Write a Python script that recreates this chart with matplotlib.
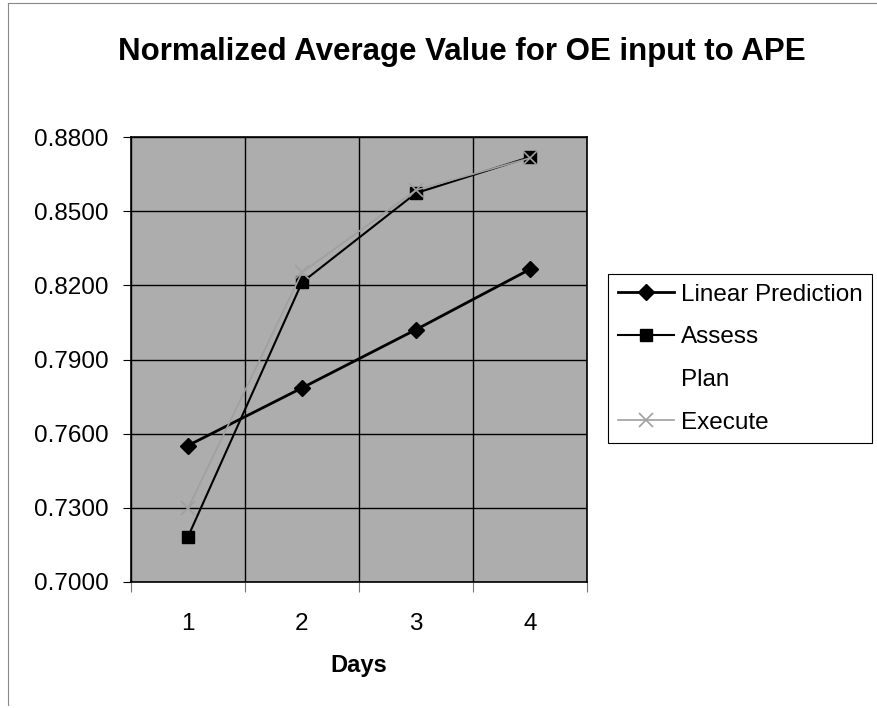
import matplotlib
matplotlib.use("Agg")
import matplotlib.pyplot as plt
from matplotlib.ticker import FixedLocator, NullFormatter, FormatStrFormatter
from matplotlib.lines import Line2D

plt.rcParams['font.family'] = ['Liberation Sans', 'DejaVu Sans']

days = [1, 2, 3, 4]
day_labels = ["1", "2", "3", "4"]
linear_prediction = [0.7552, 0.7785, 0.8021, 0.8265]
assess = [0.7183, 0.8212, 0.8573, 0.8719]
plan = []
execute = [0.7298, 0.8252, 0.8585, 0.8715]
yticks = [0.70, 0.73, 0.76, 0.79, 0.82, 0.85, 0.88]

fig = plt.figure(figsize=(8.77, 7.08), dpi=100)
ax = fig.add_axes([131/877, 1-582/708, 456/877, 445/708])
ax.set_facecolor('#adadad')

ax.plot(days, linear_prediction, color='black', lw=2.0, marker='D', ms=8,
        label='Linear Prediction', zorder=4)
ax.plot(days, assess, color='black', lw=1.5, marker='s', ms=9,
        label='Assess', zorder=3)
ax.plot([], [], linestyle='none', marker=None, label='Plan')
ax.plot(days, execute, color='#a0a0a0', lw=1.2, marker='x', ms=10, mew=1.2,
        label='Execute', zorder=5)

ax.set_xlim(0.5, 4.5)
ax.set_ylim(0.70, 0.88)
ax.set_yticks(yticks)
ax.yaxis.set_major_formatter(FormatStrFormatter('%.4f'))
ax.tick_params(axis='y', labelsize=17.5, length=6, direction='out', pad=10)

ax.xaxis.set_major_locator(FixedLocator([0.5, 1.5, 2.5, 3.5, 4.5]))
ax.xaxis.set_major_formatter(NullFormatter())
ax.xaxis.set_minor_locator(FixedLocator(days))
ax.set_xticklabels(day_labels, minor=True)
ax.tick_params(axis='x', which='major', length=7, color='#777777')
ax.tick_params(axis='x', which='minor', length=0, labelsize=17.5, pad=22)

ax.grid(True, which='major', color='black', lw=1.0)
ax.set_axisbelow(True)
for s in ax.spines.values():
    s.set_color('black')
    s.set_linewidth(1.2)

ax.set_xlabel('Days', fontsize=17, fontweight='bold', labelpad=14)
fig.text(462/877, 1-52/708, 'Normalized Average Value for OE input to APE',
         ha='center', va='center', fontsize=22.5, fontweight='bold')

leg = fig.legend(loc='upper left', bbox_to_anchor=(608/877, 1-274/708),
                 fontsize=17.5, frameon=True, fancybox=False, framealpha=1,
                 edgecolor='black', handlelength=2.3, handletextpad=0.3,
                 labelspacing=0.85, borderaxespad=0, borderpad=0.4)
leg.get_frame().set_linewidth(0.8)

# outer chart border
fig.add_artist(Line2D([8/877, 8/877], [3/708, 1-3/708], transform=fig.transFigure,
                      color='#888888', lw=0.8))
fig.add_artist(Line2D([8/877, 1], [1-3/708, 1-3/708], transform=fig.transFigure,
                      color='#888888', lw=0.8))

fig.savefig('out.png', dpi=100)
